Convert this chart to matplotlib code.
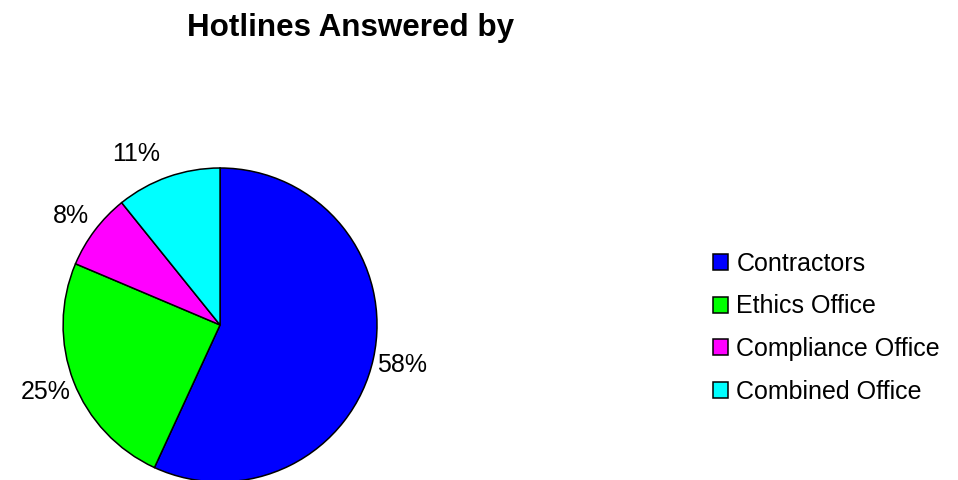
import matplotlib.pyplot as plt

plt.rcParams['font.family'] = ['Liberation Sans', 'DejaVu Sans']

labels = ['Contractors', 'Ethics Office', 'Compliance Office', 'Combined Office']
shares = [58, 25, 8, 11]
colors = ['#0000ff', '#00ff00', '#ff00ff', '#00ffff']

fig = plt.figure(figsize=(9.58, 4.8), dpi=100)
ax = fig.add_axes([0.0658, -0.004, 0.3278, 0.654])

wedges, texts = ax.pie(shares, labels=[f'{v}%' for v in shares], colors=colors,
                       startangle=90, counterclock=False, labeldistance=1.19,
                       wedgeprops=dict(edgecolor='black', linewidth=1.1),
                       textprops=dict(fontsize=18))
for t in texts:
    t.set_ha('center')
    t.set_va('center')
    t.set_clip_on(False)
# nudge the small top slices' labels a little
x, y = texts[3].get_position()
texts[3].set_position((x - 0.14, y - 0.03))
x, y = texts[2].get_position()
texts[2].set_position((x, y - 0.025))

ax.set_xlim(-1, 1)
ax.set_ylim(-1, 1)
ax.set_aspect('equal')
for w in wedges:
    w.set_clip_on(False)

fig.text(0.366, 0.925, 'Hotlines Answered by', ha='center', va='baseline',
         fontsize=22.6, fontweight='bold')

fig.legend(wedges, labels, loc='center left', bbox_to_anchor=(0.7443, 0.317),
           frameon=False, fontsize=18, handlelength=0.6, handleheight=0.6,
           handletextpad=0.33, labelspacing=0.75, borderpad=0, borderaxespad=0)

fig.savefig('out.png', dpi=100)
